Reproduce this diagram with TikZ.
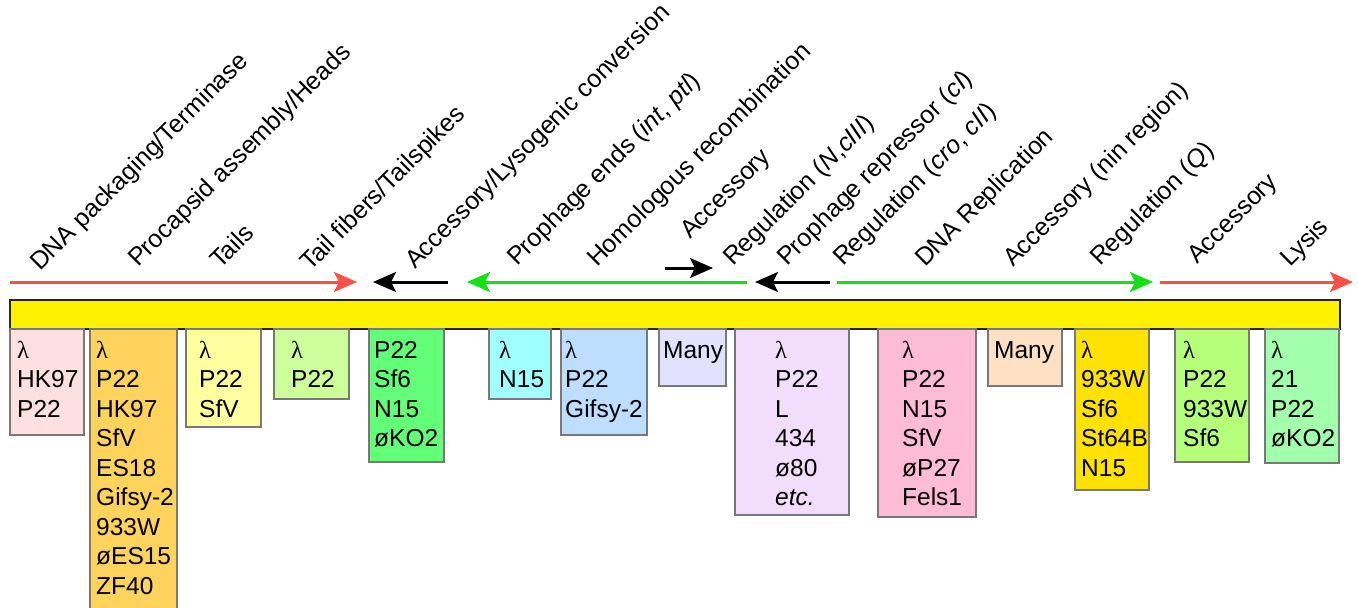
\documentclass[tikz,border=0pt]{standalone}
\usepackage{fontspec}
\setmainfont{Liberation Sans}
\newfontfamily\lamfont{Liberation Serif}
\newcommand{\lam}{{\lamfont λ}}
\usetikzlibrary{arrows.meta}

\definecolor{lyticred}{RGB}{255,80,72}
\definecolor{earlygreen}{RGB}{20,225,20}
\definecolor{boxgray}{RGB}{120,120,120}
\definecolor{cPink}{RGB}{255,224,224}
\definecolor{cOrange}{RGB}{255,211,92}
\definecolor{cLemon}{RGB}{255,255,160}
\definecolor{cLime}{RGB}{204,255,156}
\definecolor{cGreen}{RGB}{100,255,120}
\definecolor{cCyan}{RGB}{160,255,255}
\definecolor{cSky}{RGB}{190,222,255}
\definecolor{cLavender}{RGB}{226,226,255}
\definecolor{cLilac}{RGB}{242,222,252}
\definecolor{cRose}{RGB}{255,188,212}
\definecolor{cPeach}{RGB}{255,224,194}
\definecolor{cGold}{RGB}{255,226,0}
\definecolor{cLeaf}{RGB}{182,255,122}
\definecolor{cMint}{RGB}{162,255,172}

\tikzset{
  func/.style={rotate=45,anchor=base west,inner sep=0pt,font=\fontsize{25}{29}\selectfont},
  hostbox/.style={draw=boxgray,line width=1.2pt},
  hosts/.style={anchor=north west,inner sep=0pt,align=left,font=\fontsize{24.5}{29.5}\selectfont},
  flow/.style={line width=3pt,-{Stealth[length=23pt,width=20pt,inset=5pt]}},
}

\begin{document}
\begin{tikzpicture}[x=1pt,y=-1pt]
\useasboundingbox (0,0) rectangle (1358,608);

% Functional modules along the genome
\node[func] (fTerm) at (40,272) {DNA packaging/Terminase};
\node[func] (fHead) at (138,268) {Procapsid assembly/Heads};
\node[func] (fTail) at (220,270) {Tails};
\node[func] (fFib) at (310,272) {Tail fibers/Tailspikes};
\node[func] (fLys) at (415,270) {Accessory/Lysogenic conversion};
\node[func] (fEnd) at (517,267) {Prophage ends (\textit{int}, \textit{ptl})};
\node[func] (fRec) at (597,268) {Homologous recombination};
\node[func] (fAcc1) at (690,240) {Accessory};
\node[func] (fRegN) at (733,267) {Regulation (\textit{N},\textit{cIII})};
\node[func] (fRep) at (787,267) {Prophage repressor (\textit{cI})};
\node[func] (fRegC) at (843,267) {Regulation (\textit{cro}, \textit{cII})};
\node[func] (fRepl) at (925,268) {DNA Replication};
\node[func] (fNin) at (1013,268) {Accessory (nin region)};
\node[func] (fRegQ) at (1100,267) {Regulation (\textit{Q})};
\node[func] (fAcc2) at (1197,265) {Accessory};
\node[func] (fLysis) at (1290,268) {Lysis};

% Transcription arrows
\draw[flow,lyticred] (10,282) -- (357,282);
\draw[flow,black] (448,282) -- (373,282);
\draw[flow,earlygreen] (747,282) -- (467,282);
\draw[flow,black] (665,268) -- (713,268);
\draw[flow,black] (830,282) -- (755,282);
\draw[flow,earlygreen] (837,282) -- (1153,282);
\draw[flow,lyticred] (1160,282) -- (1353,282);

% Genome bar
\draw[fill=yellow,draw=black!85,line width=1.2pt] (10,300) rectangle (1340,329);

% Phages with each module
\draw[hostbox,fill=cPink] (10,329) rectangle (84,435);
\node[hosts] (hTerm) at (17,341) {\lam\\HK97\\P22};

\draw[hostbox,fill=cOrange] (90,329) rectangle (177,620);
\node[hosts] (hHead) at (96,341) {\lam\\P22\\HK97\\SfV\\ES18\\Gifsy-2\\933W\\øES15\\ZF40};

\draw[hostbox,fill=cLemon] (186,329) rectangle (261,427);
\node[hosts] (hTail) at (199,341) {\lam\\P22\\SfV};

\draw[hostbox,fill=cLime] (274,329) rectangle (349,399);
\node[hosts] (hFib) at (291,341) {\lam\\P22};

\draw[hostbox,fill=cGreen] (369,329) rectangle (444,462);
\node[hosts] (hLys) at (374,341) {P22\\Sf6\\N15\\øKO2};

\draw[hostbox,fill=cCyan] (489,329) rectangle (551,399);
\node[hosts] (hEnd) at (499,341) {\lam\\N15};

\draw[hostbox,fill=cSky] (561,329) rectangle (647,435);
\node[hosts] (hRec) at (565,341) {\lam\\P22\\Gifsy-2};

\draw[hostbox,fill=cLavender] (659,329) rectangle (726,386);
\node[hosts] (hAcc1) at (663,341) {Many};

\draw[hostbox,fill=cLilac] (735,329) rectangle (849,515);
\node[hosts] (hRep) at (775,341) {\lam\\P22\\L\\434\\ø80\\\textit{etc.}};

\draw[hostbox,fill=cRose] (878,329) rectangle (976,517);
\node[hosts] (hRepl) at (902,341) {\lam\\P22\\N15\\SfV\\øP27\\Fels1};

\draw[hostbox,fill=cPeach] (988,329) rectangle (1062,386);
\node[hosts] (hNin) at (994,341) {Many};

\draw[hostbox,fill=cGold] (1075,329) rectangle (1149,490);
\node[hosts] (hRegQ) at (1081,341) {\lam\\933W\\Sf6\\St64B\\N15};

\draw[hostbox,fill=cLeaf] (1175,329) rectangle (1249,462);
\node[hosts] (hAcc2) at (1183,341) {\lam\\P22\\933W\\Sf6};

\draw[hostbox,fill=cMint] (1265,329) rectangle (1339,463);
\node[hosts] (hLysis) at (1271,341) {\lam\\21\\P22\\øKO2};
\end{tikzpicture}
\end{document}
